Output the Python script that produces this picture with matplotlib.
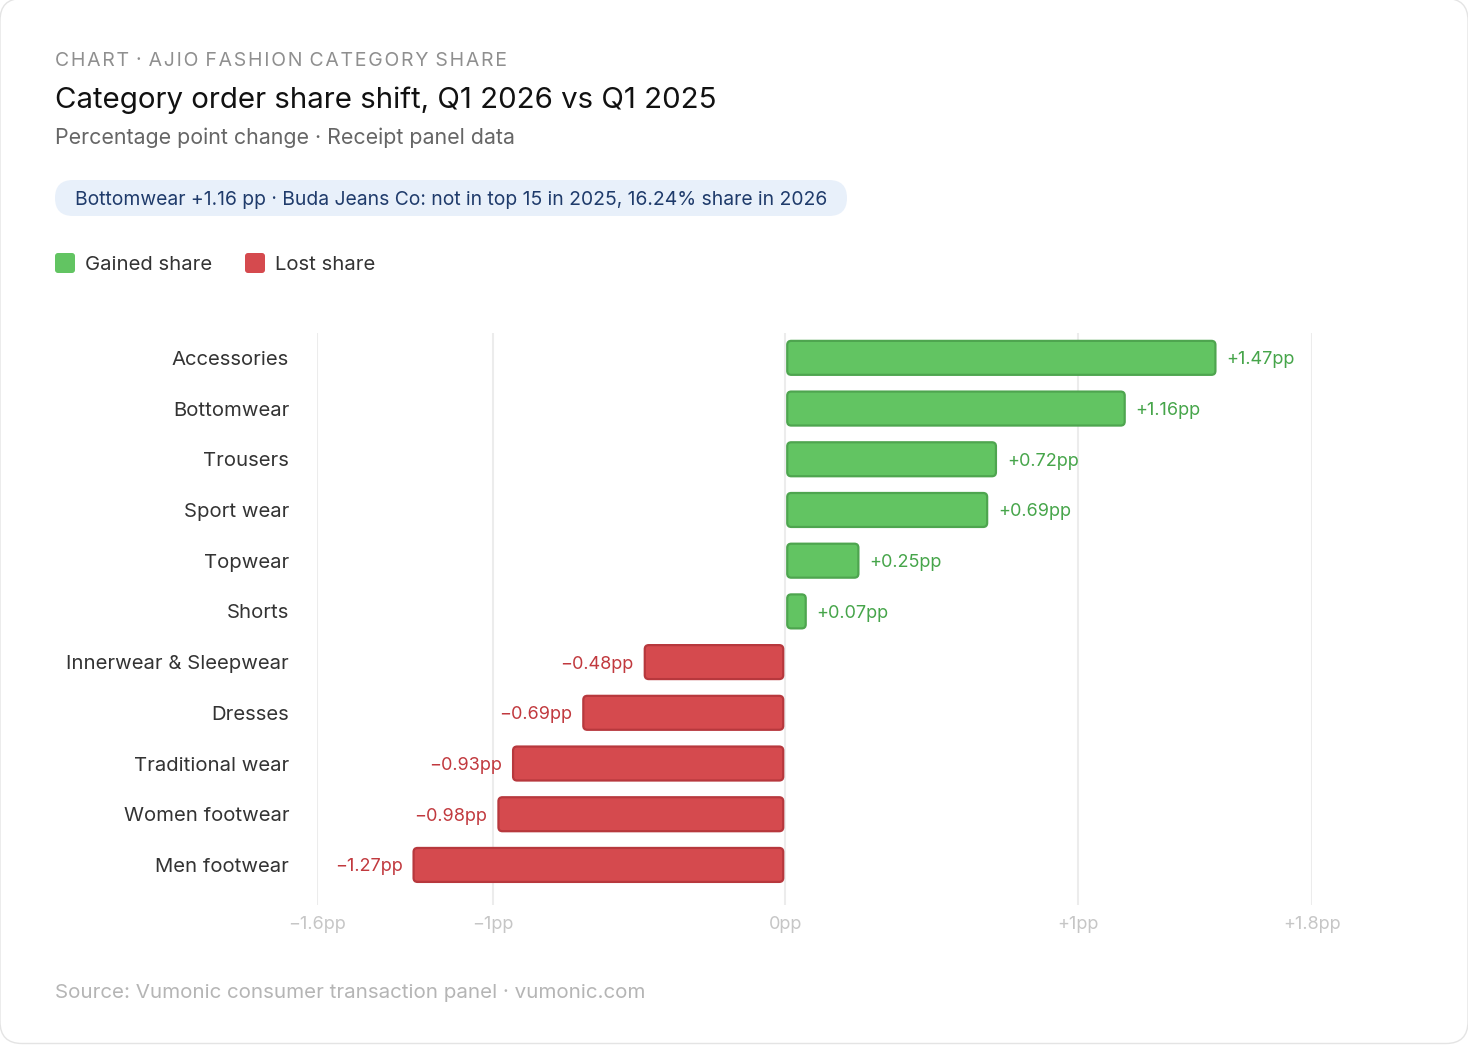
import matplotlib.pyplot as plt
from matplotlib.patches import FancyBboxPatch

plt.rcParams['font.family'] = ['Inter', 'DejaVu Sans']

categories = ['Accessories', 'Bottomwear', 'Trousers', 'Sport wear', 'Topwear', 'Shorts',
              'Innerwear & Sleepwear', 'Dresses', 'Traditional wear', 'Women footwear', 'Men footwear']
changes = [1.47, 1.16, 0.72, 0.69, 0.25, 0.07, -0.48, -0.69, -0.93, -0.98, -1.27]
xticks = [-1.6, -1, 0, 1, 1.8]
xtick_labels = ['\u22121.6pp', '\u22121pp', '0pp', '+1pp', '+1.8pp']

W, H = 1468, 1046
GREEN, GREEN_EDGE, GREEN_TXT = '#62c462', '#4ea54f', '#46a54a'
RED, RED_EDGE, RED_TXT = '#d54a4e', '#b7383d', '#c1393e'

fig = plt.figure(figsize=(W / 100, H / 100), dpi=100)
fig.patch.set_facecolor('white')

def fx(px):
    return px / W

def fy(py):
    return 1 - py / H

# card outline
fig.add_artist(FancyBboxPatch((fx(0), fy(1043.5)), fx(1468), 1045 / H,
                              boxstyle='round,pad=0,rounding_size=%f' % (22 / W),
                              mutation_aspect=W / H, transform=fig.transFigure,
                              facecolor='white', edgecolor='#e4e4e4', lw=1.0, zorder=0))

# header texts
header = 'CHART · AJIO FASHION CATEGORY SHARE'
fig.text(fx(55), fy(66), '\u200a'.join(header).replace('\u200a \u200a', '\u2009\u2009'),
         fontsize=14, color='#8f8f8f', va='baseline', ha='left')
fig.text(fx(55), fy(108), 'Category order share shift, Q1 2026 vs Q1 2025',
         fontsize=21.2, color='#111111', va='baseline', ha='left')
fig.text(fx(55), fy(144), 'Percentage point change · Receipt panel data',
         fontsize=15.4, color='#666666', va='baseline', ha='left')

# callout pill
fig.add_artist(FancyBboxPatch((fx(55), fy(216)), fx(792), 36 / H,
                              boxstyle='round,pad=0,rounding_size=%f' % (18 / W),
                              mutation_aspect=W / H, transform=fig.transFigure,
                              facecolor='#e8f0fa', edgecolor='none'))
fig.text(fx(75), fy(205), 'Bottomwear +1.16 pp · Buda Jeans Co: not in top 15 in 2025, 16.24% share in 2026',
         fontsize=13.9, color='#1f3b6b', va='baseline', ha='left')

# legend
for x0, col, lab in [(55, GREEN, 'Gained share'), (245, RED, 'Lost share')]:
    fig.add_artist(FancyBboxPatch((fx(x0), fy(273)), fx(20), 20 / H,
                                  boxstyle='round,pad=0,rounding_size=%f' % (3 / W),
                                  mutation_aspect=W / H, transform=fig.transFigure,
                                  facecolor=col, edgecolor='none'))
    fig.text(fx(x0 + 30), fy(270), lab, fontsize=14.6, color='#333333', va='baseline', ha='left')

# chart
ax = fig.add_axes([fx(317), fy(905), fx(1312 - 317), (905 - 333) / H])
ax.set_facecolor('none')
ys = list(range(len(categories)))
xpp = 3.4 / 995          # data units per pixel (x)
ypp = 1 / 50.7           # data units per pixel (y)
bh = 0.67
gap = 2 * xpp
for y, v in zip(ys, changes):
    if v >= 0:
        x0, w, fc, ec, tc = gap, v - gap, GREEN, GREEN_EDGE, GREEN_TXT
        ha, off, lab = 'left', 11, '+%.2fpp' % v
    else:
        x0, w, fc, ec, tc = v, -v - gap, RED, RED_EDGE, RED_TXT
        ha, off, lab = 'right', -11, '\u2212%.2fpp' % abs(v)
    ax.add_patch(FancyBboxPatch((x0, y - bh / 2), w, bh,
                                boxstyle='round,pad=0,rounding_size=%f' % (4 * xpp),
                                mutation_aspect=ypp / xpp,
                                facecolor=fc, edgecolor=ec, lw=1.6, zorder=3))
    ax.annotate(lab, (v, y), xytext=(off, 0), textcoords='offset pixels',
                ha=ha, va='center_baseline', fontsize=13, color=tc)

ax.set_xlim(-1.6, 1.8)
ax.set_ylim(len(categories) - 1 + 0.79, -0.49)
ax.set_xticks(xticks)
ax.set_xticklabels(xtick_labels)
ax.set_yticks(ys)
ax.set_yticklabels(categories)
ax.tick_params(axis='x', length=0, pad=8, labelsize=13, labelcolor='#c6c6c6')
ax.tick_params(axis='y', length=0, pad=20, labelsize=14.6, labelcolor='#333333')
ax.grid(axis='x', color='#ececec', lw=1.5, zorder=0)
ax.set_axisbelow(True)
for s in ax.spines.values():
    s.set_visible(False)

fig.text(fx(55), fy(998), 'Source: Vumonic consumer transaction panel · vumonic.com',
         fontsize=14.8, color='#b5b5b5', va='baseline', ha='left')

fig.savefig('out.png', dpi=100, facecolor='white')
